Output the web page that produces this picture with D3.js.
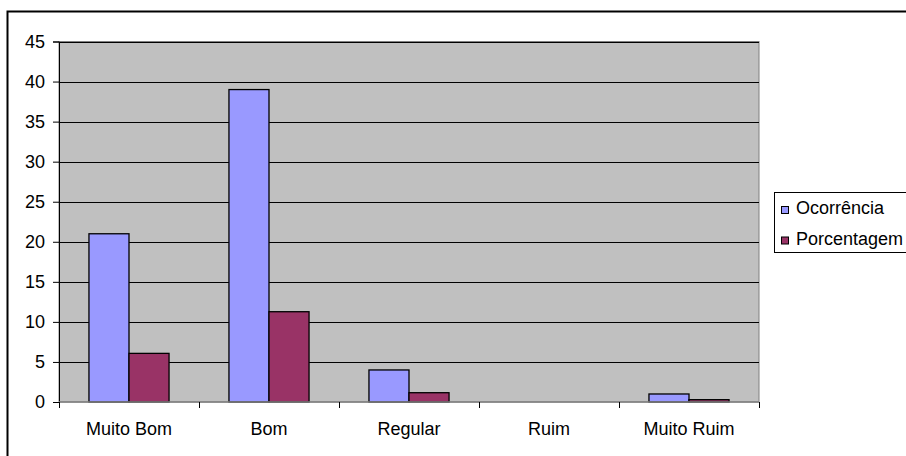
<!DOCTYPE html>
<html><head><meta charset="utf-8">
<script src="https://cdn.jsdelivr.net/npm/d3@7"></script>
<style>body{margin:0;background:#fff}svg{display:block}text{font-family:"Liberation Sans",Arial,sans-serif}</style>
</head><body>
<script>
const categories = ["Muito Bom","Bom","Regular","Ruim","Muito Ruim"];
const seriesNames = ["Ocorrência","Porcentagem"];
const ocorrencia = [21, 39, 4, 0, 1];
const porcentagem = [6.07, 11.27, 1.16, 0, 0.29];
const yTicks = [0,5,10,15,20,25,30,35,40,45];
const colors = ["#9999FF","#993366"];

const W = 906, H = 456, FS = 18;
const svg = d3.select("body").append("svg").attr("width",W).attr("height",H);
svg.append("rect").attr("x",7.5).attr("y",11.5).attr("width",W).attr("height",H).attr("fill","#fff").attr("stroke","#000").attr("stroke-width",2);

const L = 59, R = 759, T = 41.5, B = 402;
const x = d3.scaleBand().domain(categories).range([L,R]).paddingInner(0.428).paddingOuter(0.214);
const xs = d3.scaleBand().domain(seriesNames).range([0,x.bandwidth()]);
const y = d3.scaleLinear().domain([0,45]).range([B,T]);

svg.append("rect").attr("x",L).attr("y",T).attr("width",R-L).attr("height",B-T).attr("fill","#C0C0C0").attr("stroke","#808080").attr("stroke-width",1);

svg.append("g").selectAll("line").data(yTicks.filter(d=>d>0)).join("line")
  .attr("x1",L).attr("x2",R).attr("y1",d=>Math.round(y(d))+0.5).attr("y2",d=>Math.round(y(d))+0.5)
  .attr("stroke","#000").attr("stroke-width",1);

const data = categories.map((c,i)=>({c, vals:[ocorrencia[i], porcentagem[i]]}));
const g = svg.append("g");
data.forEach(d=>{
  d.vals.forEach((v,j)=>{
    if (v<=0) return;
    g.append("rect").attr("x",x(d.c)+xs(seriesNames[j])).attr("y",y(v))
      .attr("width",xs.bandwidth()).attr("height",B-y(v))
      .attr("fill",colors[j]).attr("stroke","#000").attr("stroke-width",1.3);
  });
});

// axes
const yAxis = d3.axisLeft(y).tickValues(yTicks).tickSize(6).tickPadding(8);
const ya = svg.append("g").attr("transform",`translate(${L},0)`).call(yAxis);
ya.select(".domain").attr("stroke","#000");
ya.selectAll("text").attr("font-size",FS).attr("fill","#000").attr("font-family","Liberation Sans, Arial, sans-serif");
ya.selectAll(".tick line").attr("stroke","#000");

const xPos = d3.scaleLinear().domain([0,categories.length]).range([L,R]);
const xa = svg.append("g").attr("transform",`translate(0,${B})`);
xa.append("line").attr("x1",L).attr("x2",R).attr("y1",0).attr("y2",0).attr("stroke","#808080").attr("stroke-width",1.5);
xa.selectAll("line.t").data(d3.range(categories.length+1)).join("line").attr("class","t")
  .attr("x1",d=>Math.round(xPos(d))+0.5).attr("x2",d=>Math.round(xPos(d))+0.5).attr("y1",0).attr("y2",6).attr("stroke","#000");
xa.selectAll("text").data(categories).join("text")
  .attr("x",d=>x(d)+x.bandwidth()/2).attr("y",33).attr("text-anchor","middle")
  .attr("font-size",FS).attr("fill","#000").text(d=>d);

// legend
const lg = svg.append("g");
lg.append("rect").attr("x",774.5).attr("y",192.5).attr("width",150).attr("height",60).attr("fill","#fff").attr("stroke","#000");
seriesNames.forEach((s,i)=>{
  const cy = 210 + i*30.5;
  lg.append("rect").attr("x",781.5).attr("y",cy-3.5).attr("width",7).attr("height",7).attr("fill",colors[i]).attr("stroke","#000");
  lg.append("text").attr("x",796).attr("y",cy+4).attr("font-size",FS).attr("fill","#000").text(s);
});
</script>
</body></html>
